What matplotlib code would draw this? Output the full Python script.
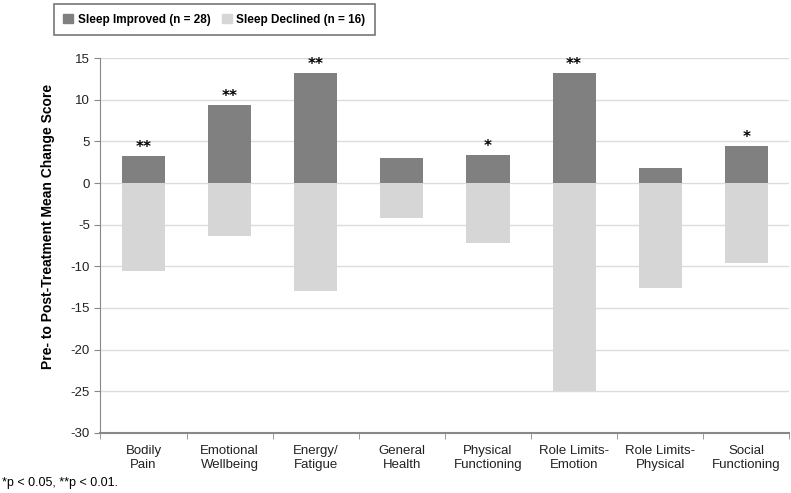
import matplotlib
matplotlib.use("Agg")
import matplotlib.pyplot as plt
import numpy as np
from matplotlib.patches import Patch

plt.rcParams['font.family'] = ['Liberation Sans Narrow', 'Liberation Sans', 'DejaVu Sans']
plt.rcParams['axes.unicode_minus'] = False

categories = ["Bodily\nPain", "Emotional\nWellbeing", "Energy/\nFatigue", "General\nHealth",
              "Physical\nFunctioning", "Role Limits-\nEmotion", "Role Limits-\nPhysical", "Social\nFunctioning"]
improved = [3.2, 9.4, 13.2, 3.0, 3.4, 13.2, 1.8, 4.4]
declined = [-10.6, -6.4, -13.0, -4.2, -7.2, -25.0, -12.6, -9.6]
stars = ["**", "**", "**", "", "*", "**", "", "*"]

dark = "#808080"
light = "#d6d6d6"

fig = plt.figure(figsize=(7.91, 4.93), dpi=100)
ax = fig.add_axes([0.127, 0.122, 0.871, 0.76])

x = np.arange(len(categories))
ax.bar(x, improved, width=0.5, color=dark, zorder=3)
ax.bar(x, declined, width=0.5, color=light, zorder=3)

for i in range(len(categories)):
    if stars[i]:
        ax.text(x[i], improved[i] + 0.15, stars[i], ha="center", va="bottom",
                fontsize=11, fontweight="bold", family="DejaVu Sans")

ax.set_xlim(-0.5, 7.5)
ax.set_ylim(-30, 15)
ax.set_yticks(range(-30, 16, 5))
ax.yaxis.grid(True, color="#dcdcdc", linewidth=1, zorder=0)
ax.set_axisbelow(True)

ax.set_xticks(x)
ax.set_xticklabels(categories, fontsize=9.5, color="#222222")
ax.tick_params(axis="x", length=0, pad=9)
ax.set_xticks(np.arange(-0.5, 8, 1), minor=True)
ax.tick_params(axis="x", which="minor", length=4, color="#888888")
ax.tick_params(axis="y", labelsize=9.5, labelcolor="#222222", length=4, color="#888888")

for s in ["top", "right"]:
    ax.spines[s].set_visible(False)
ax.spines["left"].set_color("#888888")
ax.spines["bottom"].set_color("#888888")
ax.spines["bottom"].set_linewidth(1.5)

ax.set_ylabel("Pre- to Post-Treatment Mean Change Score", fontsize=10, fontweight="bold")
ax.yaxis.set_label_coords(-0.066, 0.552)

handles = [Patch(color=dark, label="Sleep Improved (n = 28)"),
           Patch(color=light, label="Sleep Declined (n = 16)")]
leg = fig.legend(handles=handles, loc="upper left", bbox_to_anchor=(48 / 791, 1.003), ncol=2,
                 frameon=True, fancybox=False, edgecolor="#555555", handlelength=0.8, handleheight=0.8,
                 handletextpad=0.4, prop={"weight": "bold", "size": 8.5}, columnspacing=1.0, borderpad=0.8)
leg.get_frame().set_linewidth(1.2)

fig.text(0.002, 0.015, "*p < 0.05, **p < 0.01.", fontsize=9)

fig.savefig("out.png", dpi=100)
